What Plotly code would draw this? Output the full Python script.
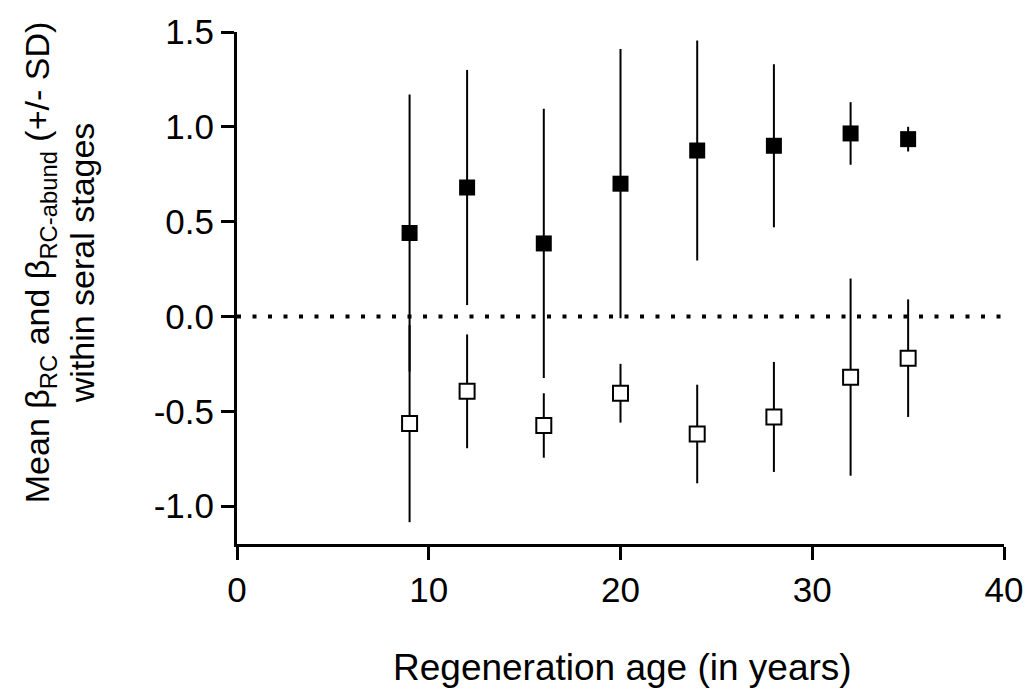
import plotly.graph_objects as go

# Regeneration age of each seral stage (years)
ages = [9, 12, 16, 20, 24, 28, 32, 35]

# Mean beta_RC (filled squares) and its SD
beta_rc_mean = [0.44, 0.68, 0.385, 0.70, 0.875, 0.90, 0.965, 0.935]
beta_rc_sd = [0.73, 0.62, 0.71, 0.71, 0.58, 0.43, 0.165, 0.065]

# Mean beta_RC-abund (open squares) and its SD
beta_abund_mean = [-0.565, -0.395, -0.575, -0.405, -0.62, -0.53, -0.32, -0.22]
beta_abund_sd = [0.52, 0.30, 0.17, 0.155, 0.26, 0.29, 0.52, 0.31]

x_ticks = [0, 10, 20, 30, 40]
y_ticks = [-1.0, -0.5, 0.0, 0.5, 1.0, 1.5]

FONT = "Liberation Sans, Arial, sans-serif"

fig = go.Figure()

# zero reference line
fig.add_shape(type="line", xref="x", yref="y", x0=0, x1=40, y0=0, y1=0,
              line=dict(color="black", width=4, dash="4px,11.5px"), layer="below")

fig.add_trace(go.Scatter(
    x=ages, y=beta_abund_mean, mode="markers",
    marker=dict(symbol="square", size=15, color="white",
                line=dict(color="black", width=2)),
    error_y=dict(type="data", array=beta_abund_sd, symmetric=True,
                 color="black", thickness=2, width=0),
    showlegend=False,
))

fig.add_trace(go.Scatter(
    x=ages, y=beta_rc_mean, mode="markers",
    marker=dict(symbol="square", size=16, color="black",
                line=dict(color="black", width=0)),
    error_y=dict(type="data", array=beta_rc_sd, symmetric=True,
                 color="black", thickness=2, width=0),
    showlegend=False,
))

axis_common = dict(
    showline=True, linecolor="black", linewidth=3,
    ticks="outside", ticklen=13, tickwidth=3, tickcolor="black",
    showgrid=False, zeroline=False, ticklabeloverflow="allow",
    tickfont=dict(family=FONT, size=35, color="black"),
)

fig.update_xaxes(range=[0, 40], tickvals=x_ticks,
                 ticktext=[str(v) for v in x_ticks], **axis_common)
fig.update_yaxes(range=[-1.2, 1.5], tickvals=y_ticks,
                 ticktext=[f"{v:.1f}" for v in y_ticks], **axis_common)

# axis titles
fig.add_annotation(text="Regeneration age (in years)", xref="paper", yref="paper",
                   x=0.5026, y=-0.242, xanchor="center", yanchor="middle",
                   showarrow=False,
                   font=dict(family=FONT, size=37, color="black"))
fig.add_annotation(
    text="Mean β<sub>RC</sub> and β<sub>RC-abund</sub> (+/- SD)<br>within seral stages",
    xref="paper", yref="paper", x=-0.231, y=0.55, xanchor="center", yanchor="middle",
    textangle=-90, showarrow=False, align="center",
    font=dict(family=FONT, size=34, color="black"))

fig.update_layout(
    width=1035, height=695,
    margin=dict(l=237, r=22, t=24, b=151),
    plot_bgcolor="white", paper_bgcolor="white",
)

fig.write_html("out.html")
